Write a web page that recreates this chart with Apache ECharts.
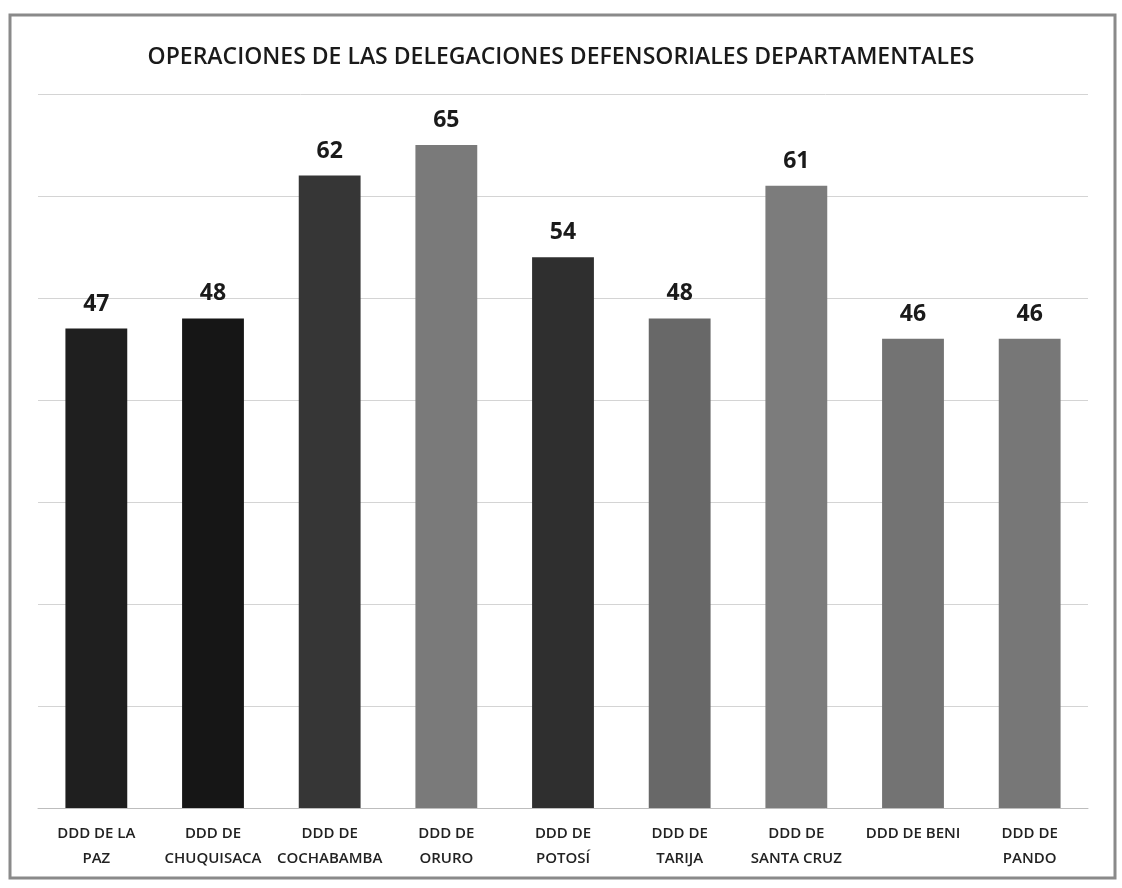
<!DOCTYPE html>
<html>
<head>
<meta charset="utf-8">
<script src="https://cdn.jsdelivr.net/npm/echarts@6/dist/echarts.min.js"></script>
<style>
  html, body { margin: 0; padding: 0; background: #fff; }
  #chart { width: 1122px; height: 888px; }
</style>
</head>
<body>
<div id="chart"></div>
<script>
// Departmental delegations and their operation counts
const categories = [
  'DDD DE LA\nPAZ',
  'DDD DE\nCHUQUISACA',
  'DDD DE\nCOCHABAMBA',
  'DDD DE\nORURO',
  'DDD DE\nPOTOSÍ',
  'DDD DE\nTARIJA',
  'DDD DE\nSANTA CRUZ',
  'DDD DE BENI',
  'DDD DE\nPANDO'
];
const operations = [47, 48, 62, 65, 54, 48, 61, 46, 46];
const barShades = ['#1f1f1f', '#161616', '#363636', '#7a7a7a', '#2f2f2f', '#686868', '#7c7c7c', '#737373', '#777777'];

const chart = echarts.init(document.getElementById('chart'));
chart.setOption({
  backgroundColor: '#ffffff',
  animation: false,
  title: {
    text: 'OPERACIONES DE LAS DELEGACIONES DEFENSORIALES DEPARTAMENTALES',
    left: 'center',
    top: 41,
    textStyle: {
      fontFamily: 'Open Sans',
      fontWeight: 600,
      fontSize: 23,
      color: '#1a1a1a'
    }
  },
  graphic: [{
    type: 'rect',
    shape: { x: 10, y: 15, width: 1105, height: 863 },
    style: { fill: 'none', stroke: '#8a8a8a', lineWidth: 3 },
    silent: true
  }],
  grid: { left: 38, right: 34, top: 94, bottom: 80 },
  xAxis: {
    type: 'category',
    data: categories,
    axisTick: { show: false },
    axisLine: { lineStyle: { color: '#bdbdbd', width: 1 } },
    axisLabel: {
      interval: 0,
      margin: 13,
      fontFamily: 'Open Sans',
      fontWeight: 600,
      fontSize: 15,
      lineHeight: 25,
      color: '#222'
    }
  },
  yAxis: {
    type: 'value',
    min: 0,
    max: 70,
    interval: 10,
    axisLabel: { show: false },
    axisLine: { show: false },
    axisTick: { show: false },
    splitLine: { lineStyle: { color: '#d4d4d4', width: 1 } }
  },
  series: [{
    type: 'bar',
    data: operations.map((v, i) => ({ value: v, itemStyle: { color: barShades[i] } })),
    barWidth: '53%',
    label: {
      show: true,
      position: 'top',
      distance: 13,
      fontFamily: 'Open Sans',
      fontWeight: 'bold',
      fontSize: 23,
      color: '#1a1a1a'
    }
  }]
});
</script>
</body>
</html>
